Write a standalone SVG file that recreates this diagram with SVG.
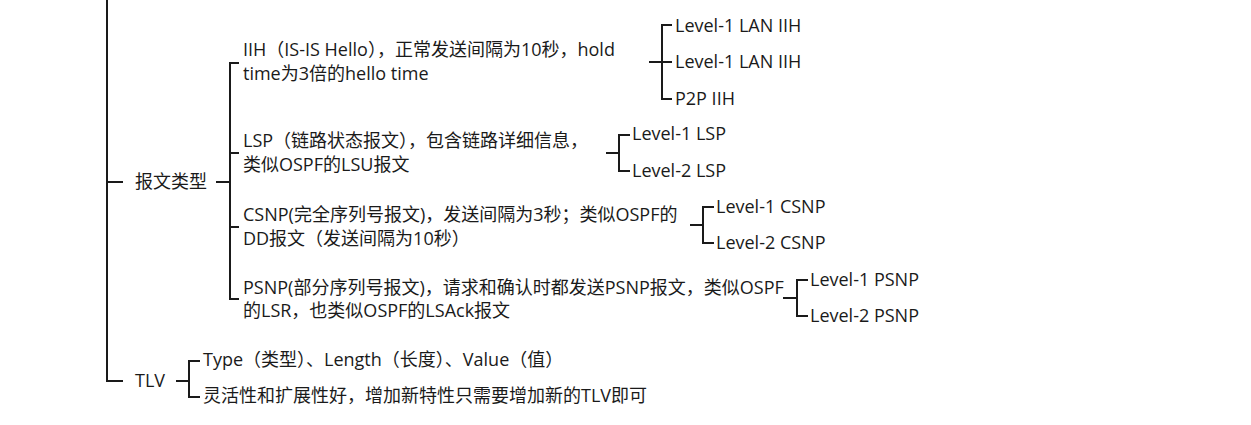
<svg xmlns="http://www.w3.org/2000/svg" width="1251" height="425" viewBox="0 0 1251 425">
<style>
text{font-family:"Open Sans","Noto Sans CJK SC",sans-serif;font-size:18px;fill:#1a1a1a}
.c{fill:none;stroke:#1a1a1a;stroke-width:2}
</style>
<rect width="1251" height="425" fill="#fff"/>
<g id="connectors">
<path class="c" d="M107,0V381H123M107,182H123"/>
<path class="c" d="M216,182H230M239,63H230V299H239M230,153H239M230,227H239"/>
<path class="c" d="M649,62H672M672,25H662V99H672"/>
<path class="c" d="M606,153H619M630,135H619V171H630"/>
<path class="c" d="M690,225H703M714,207H703V243H714"/>
<path class="c" d="M783,298H797M808,280H797V316H808"/>
<path class="c" d="M176,381H189M200,361H189V397H200"/>
</g>
<g id="n-type"><text x="135" y="188">报文类型</text></g>
<g id="n-iih"><text x="243" y="56">IIH（IS-IS Hello），正常发送间隔为10秒，hold</text><text x="243" y="80">time为3倍的hello time</text></g>
<g id="n-iih1"><text x="675" y="32">Level-1 LAN IIH</text></g>
<g id="n-iih2"><text x="675" y="68">Level-1 LAN IIH</text></g>
<g id="n-iih3"><text x="675" y="105">P2P IIH</text></g>
<g id="n-lsp"><text x="243" y="147">LSP（链路状态报文），包含链路详细信息，</text><text x="243" y="171">类似OSPF的LSU报文</text></g>
<g id="n-lsp1"><text x="632" y="140">Level-1 LSP</text></g>
<g id="n-lsp2"><text x="632" y="177">Level-2 LSP</text></g>
<g id="n-csnp"><text x="243" y="221">CSNP(完全序列号报文)，发送间隔为3秒；类似OSPF的</text><text x="243" y="245">DD报文（发送间隔为10秒）</text></g>
<g id="n-csnp1"><text x="716" y="213">Level-1 CSNP</text></g>
<g id="n-csnp2"><text x="716" y="249">Level-2 CSNP</text></g>
<g id="n-psnp"><text x="243" y="294">PSNP(部分序列号报文)，请求和确认时都发送PSNP报文，类似OSPF</text><text x="243" y="317">的LSR，也类似OSPF的LSAck报文</text></g>
<g id="n-psnp1"><text x="810" y="286">Level-1 PSNP</text></g>
<g id="n-psnp2"><text x="810" y="322">Level-2 PSNP</text></g>
<g id="n-tlv"><text x="135" y="387">TLV</text></g>
<g id="n-tlv1"><text x="203" y="366">Type（类型）、Length（长度）、Value（值）</text></g>
<g id="n-tlv2"><text x="203" y="402">灵活性和扩展性好，增加新特性只需要增加新的TLV即可</text></g>
</svg>
